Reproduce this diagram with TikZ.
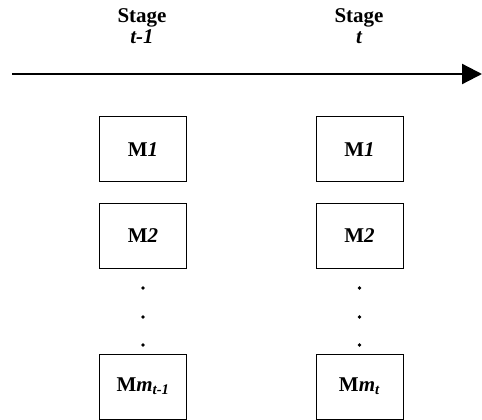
\documentclass[tikz,border=0pt]{standalone}
\usepackage{fontspec}
\setmainfont{Liberation Serif}
\usetikzlibrary{arrows.meta}
\tikzset{
  mbox/.style={draw, line width=0.9pt, minimum width=87pt, minimum height=65pt, inner sep=0pt, font=\fontsize{21}{23}\selectfont\bfseries},
  stagelbl/.style={anchor=base, font=\fontsize{21}{23}\selectfont\bfseries, inner sep=0pt},
  vdot/.style={circle, fill=black, inner sep=0pt, minimum size=3.8pt}
}
\begin{document}
\begin{tikzpicture}[x=1pt,y=-1pt]
\useasboundingbox (0,0) rectangle (482,420);
% stage labels
\node[stagelbl] (s1) at (142,23) {Stage};
\node[stagelbl] (s1t) at (142,44) {\itshape t-1};
\node[stagelbl] (s2) at (359,23) {Stage};
\node[stagelbl] (s2t) at (359,44) {\itshape t};
% time axis
\coordinate (a0) at (12,74);
\coordinate (a1) at (482,74);
\draw[line width=2.3pt, -{Triangle[length=20pt,width=20pt]}] (a0) -- (a1);
% left column
\node[mbox] (l1) at (143,149.2) {M\textit{1}};
\node[mbox] (l2) at (143,235.5) {M\textit{2}};
\node[vdot] (ld1) at (143,288) {};
\node[vdot] (ld2) at (143,317) {};
\node[vdot] (ld3) at (143,345) {};
\node[mbox] (l3) at (143,386.5) {M\textit{m}\textsubscript{\textit{t-1}}};
% right column
\node[mbox] (r1) at (359.5,149.2) {M\textit{1}};
\node[mbox] (r2) at (359.5,235.5) {M\textit{2}};
\node[vdot] (rd1) at (359.5,288) {};
\node[vdot] (rd2) at (359.5,317) {};
\node[vdot] (rd3) at (359.5,345) {};
\node[mbox] (r3) at (359.5,386.5) {M\textit{m}\textsubscript{\textit{t}}};
\end{tikzpicture}
\end{document}
